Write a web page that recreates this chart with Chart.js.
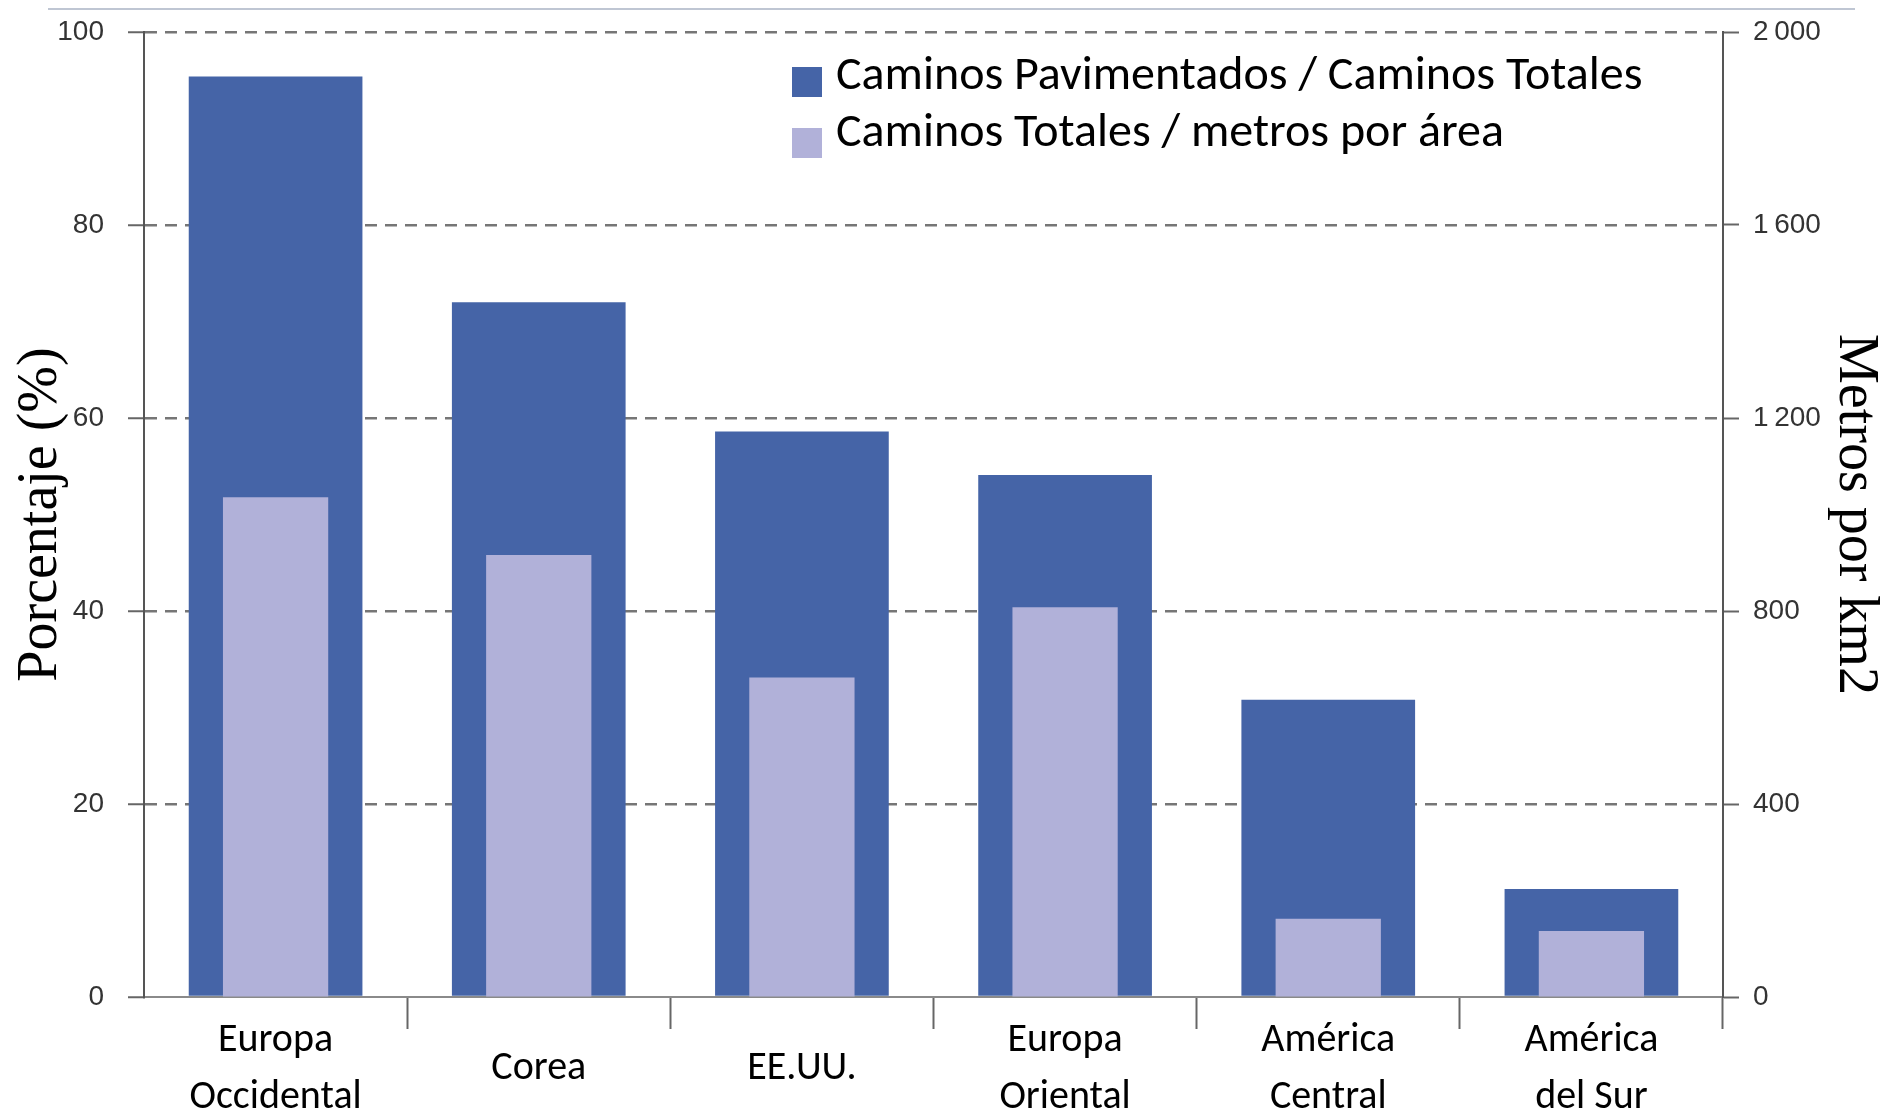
<!DOCTYPE html>
<html>
<head>
<meta charset="utf-8">
<script src="https://cdn.jsdelivr.net/npm/chart.js@4/dist/chart.umd.min.js"></script>
<style>
  html, body { margin: 0; padding: 0; background: #fff; }
  #wrap { width: 1884px; height: 1120px; }
</style>
</head>
<body>
<div id="wrap"><canvas id="roadChart" width="1884" height="1120"></canvas></div>
<script>
// datos
const regiones = [
  ['Europa', 'Occidental'],
  ['Corea'],
  ['EE.UU.'],
  ['Europa', 'Oriental'],
  ['América', 'Central'],
  ['América', 'del Sur']
];
const pavimentadosPct = [95.4, 72.0, 58.6, 54.1, 30.8, 11.2];   // % eje izquierdo
const metrosPorKm2 = [1036, 916, 662, 808, 162, 137];           // m/km2 eje derecho
const ticksPct = [0, 20, 40, 60, 80, 100];
const ticksMetros = [0, 400, 800, 1200, 1600, 2000];
const leyenda = ['Caminos Pavimentados / Caminos Totales', 'Caminos Totales / metros por área'];

const AZUL = '#4564a7';
const LILA = '#b1b1d9';
const SANS = 'Carlito, Lato, sans-serif';

// leyenda dentro del área del gráfico + línea superior
const legendPlugin = {
  id: 'leyendaInterna',
  afterDraw(chart) {
    const ctx = chart.ctx;
    ctx.save();
    ctx.strokeStyle = '#aab3c4';
    ctx.lineWidth = 1.5;
    ctx.beginPath();
    ctx.moveTo(48, 9);
    ctx.lineTo(1855, 9);
    ctx.stroke();

    const colores = [AZUL, LILA];
    ctx.font = '48px ' + SANS;
    ctx.textBaseline = 'middle';
    ctx.textAlign = 'left';
    leyenda.forEach((txt, i) => {
      const cy = 77 + i * 57;
      ctx.fillStyle = colores[i];
      ctx.fillRect(792, cy - 10 + i * 4, 30, 30);
      ctx.fillStyle = '#000';
      ctx.fillText(txt, 836, cy);
    });
    ctx.restore();
  }
};

const fmtMiles = v => String(v).replace(/\B(?=(\d{3})+(?!\d))/g, '\u2009');

// ancho fijo del eje y sin relleno extra arriba/abajo
const fijarEje = ancho => s => {
  s.width = ancho;
  s.paddingTop = 0;
  s.paddingBottom = 0;
};

new Chart(document.getElementById('roadChart').getContext('2d'), {
  type: 'bar',
  data: {
    labels: regiones,
    datasets: [
      {
        label: leyenda[0],
        data: pavimentadosPct,
        backgroundColor: AZUL,
        yAxisID: 'y',
        grouped: false,
        categoryPercentage: 1,
        barPercentage: 0.66,
        order: 2
      },
      {
        label: leyenda[1],
        data: metrosPorKm2,
        backgroundColor: LILA,
        yAxisID: 'y1',
        grouped: false,
        categoryPercentage: 1,
        barPercentage: 0.40,
        order: 1
      }
    ]
  },
  options: {
    responsive: false,
    animation: false,
    layout: { padding: { top: 32, left: 0, right: 0, bottom: 0 } },
    plugins: {
      legend: { display: false },
      tooltip: { enabled: false }
    },
    scales: {
      x: {
        position: 'bottom',
        offset: true,
        grid: {
          display: true,
          offset: true,
          drawOnChartArea: false,
          drawTicks: true,
          tickLength: 32,
          tickWidth: 2,
          tickColor: c => (c.index === 0 || c.index === regiones.length) ? 'rgba(0,0,0,0)' : '#666'
        },
        border: { display: true, color: '#8a8a8a', width: 2 },
        ticks: {
          color: '#000',
          font: { family: SANS, size: 40, lineHeight: 1.42 },
          padding: 12,
          crossAlign: 'center',
          maxRotation: 0,
          autoSkip: false
        },
        afterFit: s => { s.height = 123; }
      },
      y: {
        position: 'left',
        min: 0,
        max: 100,
        afterBuildTicks: s => { s.ticks = ticksPct.map(v => ({ value: v })); },
        grid: {
          color: c => c.tick && c.tick.value === 0 ? 'rgba(0,0,0,0)' : '#767676',
          lineWidth: 2.5,
          tickLength: 16,
          tickWidth: 2,
          tickColor: '#666'
        },
        border: { display: true, color: '#555', width: 2, dash: [12, 8] },
        ticks: {
          color: '#333',
          font: { family: 'Liberation Sans, Arial, sans-serif', size: 28 },
          padding: 24
        },
        title: {
          display: true,
          text: 'Porcentaje (%)',
          color: '#000',
          font: { family: 'Liberation Serif, Times New Roman, serif', size: 56, lineHeight: 1 },
          padding: { top: 13, bottom: 0 }
        },
        afterFit: fijarEje(144)
      },
      y1: {
        position: 'right',
        min: 0,
        max: 2000,
        afterBuildTicks: s => { s.ticks = ticksMetros.map(v => ({ value: v })); },
        grid: {
          drawOnChartArea: false,
          tickLength: 16,
          tickWidth: 2,
          tickColor: '#666'
        },
        border: { display: true, color: '#555', width: 2 },
        ticks: {
          color: '#333',
          font: { family: 'Liberation Sans, Arial, sans-serif', size: 28 },
          padding: 14,
          callback: v => fmtMiles(v)
        },
        title: {
          display: true,
          text: 'Metros por km2',
          color: '#000',
          font: { family: 'Liberation Serif, Times New Roman, serif', size: 56, lineHeight: 1 },
          padding: { top: 1, bottom: 0 }
        },
        afterFit: fijarEje(161)
      }
    }
  },
  plugins: [legendPlugin]
});
</script>
</body>
</html>
